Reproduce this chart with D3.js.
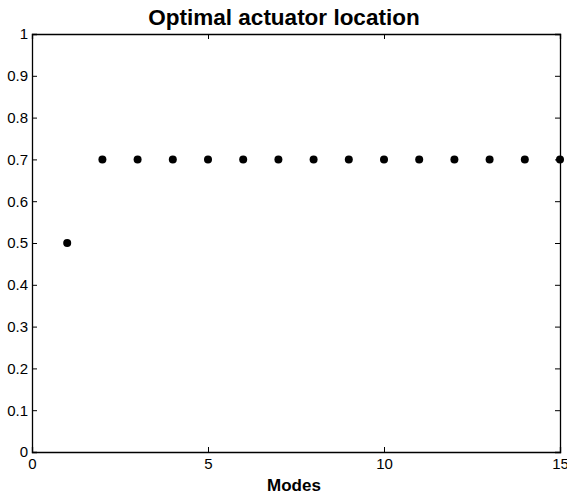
<!DOCTYPE html>
<html><head><meta charset="utf-8">
<script src="https://cdn.jsdelivr.net/npm/d3@7"></script>
<style>body{margin:0;background:#fff}svg{display:block;font-family:"Liberation Sans",Arial,Helvetica,sans-serif}</style>
</head><body><svg id="c" width="567" height="498"></svg>
<script>
const modes = [1,2,3,4,5,6,7,8,9,10,11,12,13,14,15];
const locations = [0.5,0.7,0.7,0.7,0.7,0.7,0.7,0.7,0.7,0.7,0.7,0.7,0.7,0.7,0.7];
const xTicks = [0,5,10,15];
const yTicks = [0,0.1,0.2,0.3,0.4,0.5,0.6,0.7,0.8,0.9,1];
const title = "Optimal actuator location";
const xLabel = "Modes";

const svg = d3.select("#c");
const L=32,R=560,T=34,B=452;
const x = d3.scaleLinear().domain([0,15]).range([L,R]);
const y = d3.scaleLinear().domain([0,1]).range([B,T]);
const fmt = d => d===0||d===1 ? String(d) : d3.format(".1f")(d);

svg.append("g").attr("transform",`translate(0,${B})`)
  .call(d3.axisBottom(x).tickValues(xTicks).tickSize(-5).tickPadding(6).tickFormat(d3.format("d")));
svg.append("g").attr("transform",`translate(0,${T})`)
  .call(d3.axisTop(x).tickValues(xTicks).tickSize(-5).tickFormat(""));
svg.append("g").attr("transform",`translate(${L},0)`)
  .call(d3.axisLeft(y).tickValues(yTicks).tickSize(-5).tickPadding(4).tickFormat(fmt));
svg.append("g").attr("transform",`translate(${R},0)`)
  .call(d3.axisRight(y).tickValues(yTicks).tickSize(-5).tickFormat(""));
svg.selectAll(".domain").attr("stroke","#000").attr("stroke-width",1.3);
svg.selectAll(".tick line").attr("stroke","#000");
svg.selectAll(".tick text").attr("font-size",15).attr("fill","#000").attr("font-family","Liberation Sans,Arial,sans-serif");

svg.append("g").selectAll("circle").data(modes).join("circle")
  .attr("cx",(d)=>x(d)).attr("cy",(d,i)=>y(locations[i])).attr("r",4).attr("fill","#000");

svg.append("text").attr("x",284).attr("y",25).attr("text-anchor","middle")
  .attr("font-size",22.5).attr("font-weight","bold").text(title);
svg.append("text").attr("x",294).attr("y",491).attr("text-anchor","middle")
  .attr("font-size",17).attr("font-weight","bold").text(xLabel);
</script></body></html>
